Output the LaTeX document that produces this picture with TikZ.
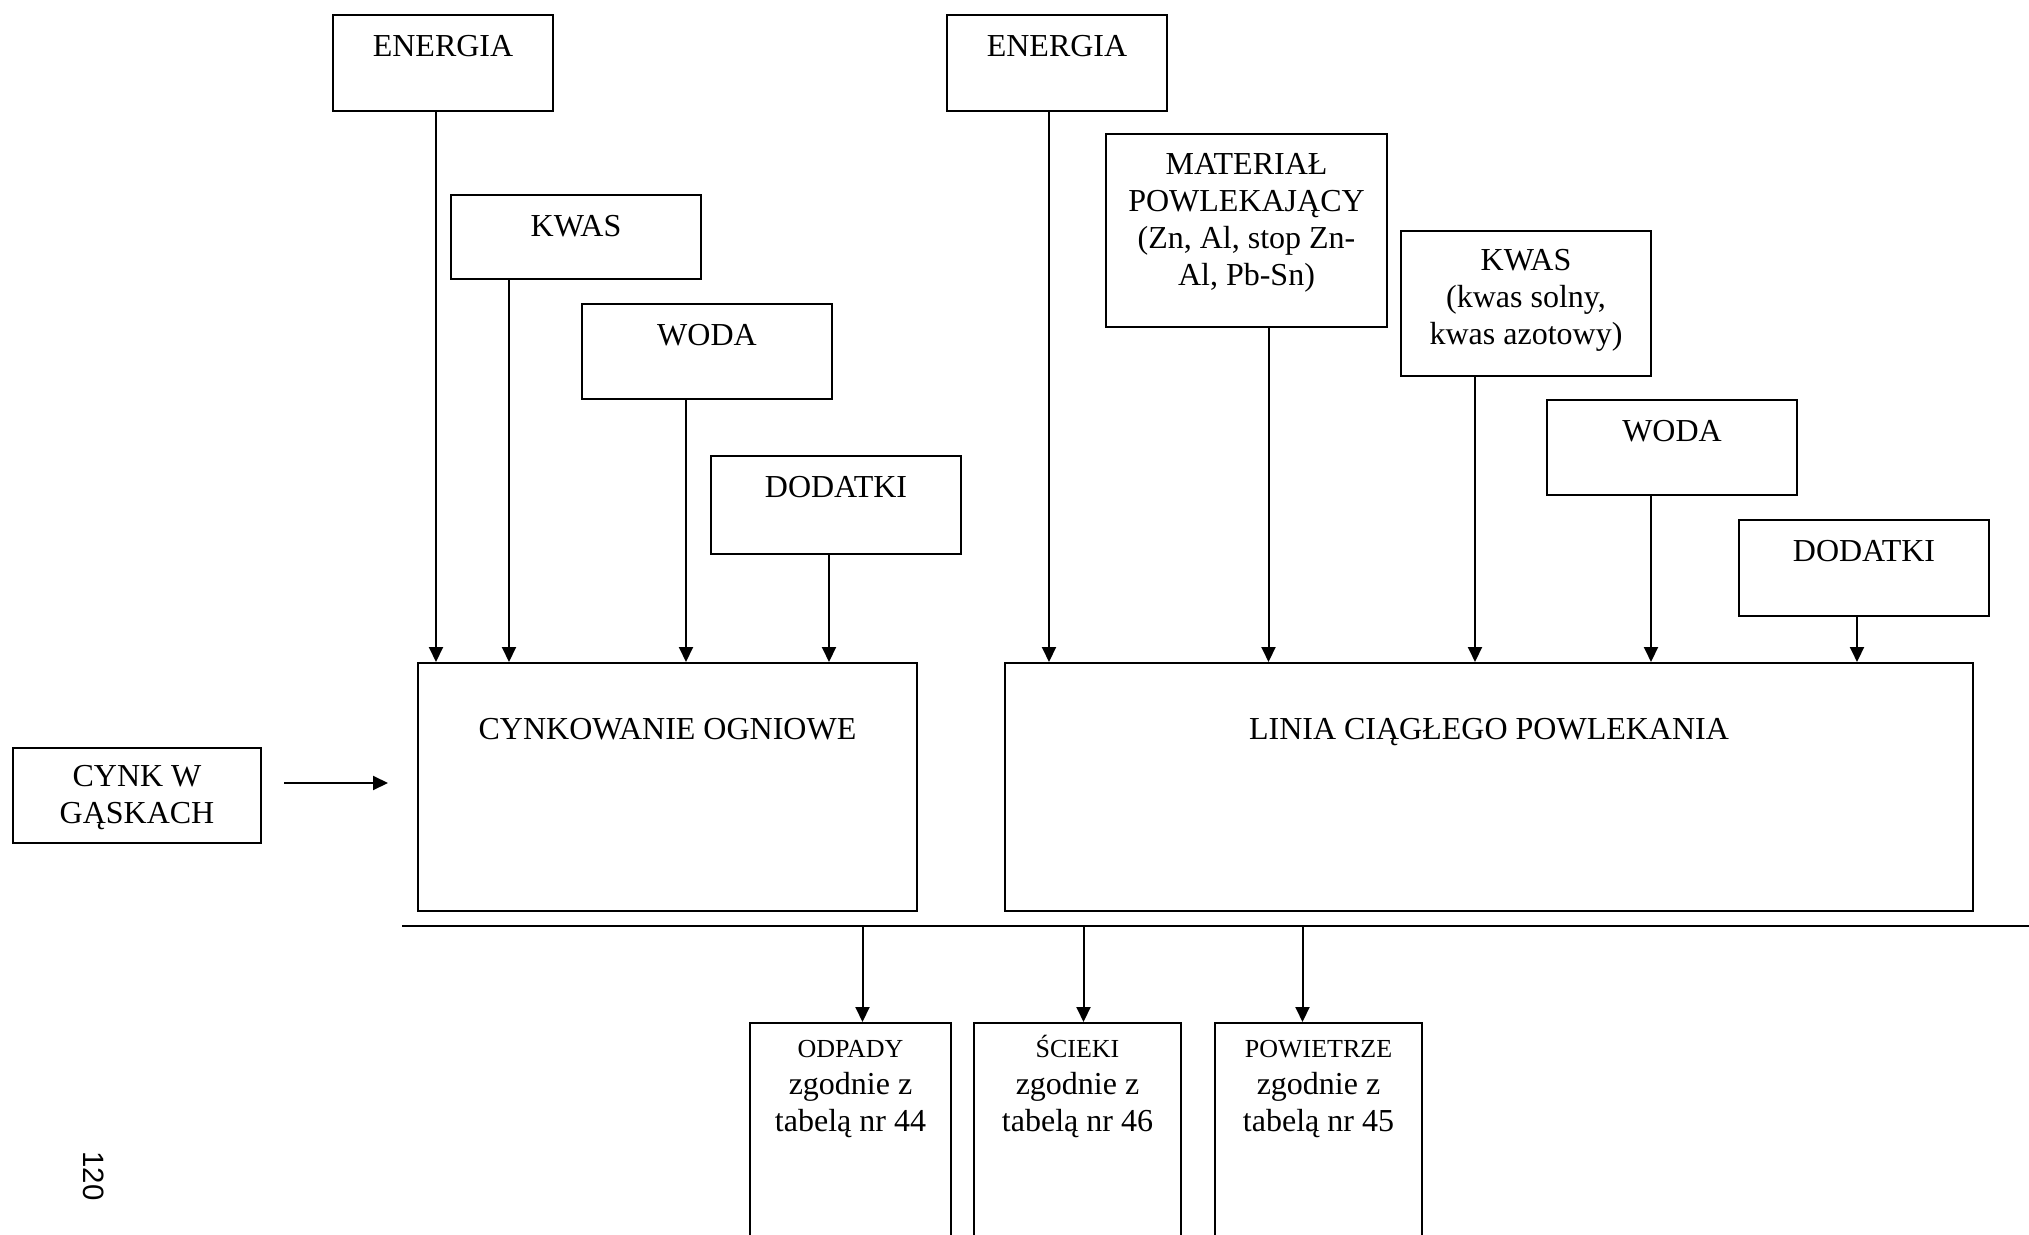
\documentclass[tikz,border=0pt]{standalone}
\usepackage{fontspec}
\setmainfont{Liberation Serif}
\setsansfont{Liberation Sans}
\usetikzlibrary{arrows.meta}
\tikzset{
  blok/.style={draw, line width=1pt, inner sep=0pt, anchor=north west},
  napis/.style={anchor=north, align=center, inner sep=0pt, yshift=#1,
    font=\fontsize{16}{18.5}\selectfont, execute at begin node=\strut},
  napis/.default=-8.2pt,
  strz/.style={-{Triangle[length=7.5pt,width=7pt]}, line width=1pt},
}
\newcommand{\maly}[1]{{\fontsize{13}{15}\selectfont\vphantom{Ś}#1}}

\begin{document}
\begin{tikzpicture}[x=0.5pt,y=-0.5pt]
    \useasboundingbox (0,0) rectangle (2029,1235);

    % cynkowanie ogniowe
    \node[blok, minimum width=110pt, minimum height=48pt, label={[napis]north:ENERGIA}] (lenergia) at (332,14) {};
    \node[blok, minimum width=125pt, minimum height=42pt, label={[napis]north:KWAS}] (lkwas) at (450,194) {};
    \node[blok, minimum width=125pt, minimum height=47.5pt, label={[napis]north:WODA}] (lwoda) at (581,303) {};
    \node[blok, minimum width=125pt, minimum height=49pt, label={[napis]north:DODATKI}] (ldodatki) at (710,455) {};
    \node[blok, minimum width=249.5pt, minimum height=124pt, label={[napis=-25.6pt]north:CYNKOWANIE OGNIOWE}] (lproc) at (417,662) {};
    \node[blok, minimum width=124pt, minimum height=47.5pt, label={[napis=-8.8pt]north:{CYNK W\\GĄSKACH}}] (cynk) at (12,747) {};

    % linia ciaglego powlekania
    \node[blok, minimum width=110pt, minimum height=48pt, label={[napis]north:ENERGIA}] (renergia) at (946,14) {};
    \node[blok, minimum width=140.5pt, minimum height=96.5pt, label={[napis=-9.8pt]north:{MATERIAŁ\\POWLEKAJĄCY\\(Zn, Al, stop Zn-\\Al, Pb-Sn)}}] (rmaterial) at (1105,133) {};
    \node[blok, minimum width=125pt, minimum height=72.5pt, label={[napis=-9.6pt]north:{KWAS\\(kwas solny,\\kwas azotowy)}}] (rkwas) at (1400,230) {};
    \node[blok, minimum width=125pt, minimum height=47.5pt, label={[napis]north:WODA}] (rwoda) at (1546,399) {};
    \node[blok, minimum width=125pt, minimum height=48pt, label={[napis]north:DODATKI}] (rdodatki) at (1738,519) {};
    \node[blok, minimum width=484pt, minimum height=124pt, label={[napis=-25.6pt]north:LINIA CIĄGŁEGO POWLEKANIA}] (rproc) at (1004,662) {};

    % emisje
    \node[blok, minimum width=100.5pt, minimum height=150pt, label={[napis=-6.6pt]north:{\maly{ODPADY}\\zgodnie z\\tabelą nr 44}}] (odpady) at (749,1022) {};
    \node[blok, minimum width=103.5pt, minimum height=150pt, label={[napis=-6.6pt]north:{\maly{ŚCIEKI}\\zgodnie z\\tabelą nr 46}}] (scieki) at (973,1022) {};
    \node[blok, minimum width=103.5pt, minimum height=150pt, label={[napis=-6.6pt]north:{\maly{POWIETRZE}\\zgodnie z\\tabelą nr 45}}] (powietrze) at (1214,1022) {};

    \node[rotate=-90, font=\fontsize{14.7}{16}\selectfont\sffamily] (strona) at (94,1176) {120};

    \draw[strz] ([xshift=-3.5pt]lenergia.south) -- ([xshift=-3.5pt]lenergia.south |- lproc.north);
    \draw[strz] ([xshift=-33.5pt]lkwas.south) -- ([xshift=-33.5pt]lkwas.south |- lproc.north);
    \draw[strz] ([xshift=-10.5pt]lwoda.south) -- ([xshift=-10.5pt]lwoda.south |- lproc.north);
    \draw[strz] ([xshift=-3.5pt]ldodatki.south) -- ([xshift=-3.5pt]ldodatki.south |- lproc.north);

    \draw[strz] ([xshift=-4pt]renergia.south) -- ([xshift=-4pt]renergia.south |- rproc.north);
    \draw[strz] ([xshift=11pt]rmaterial.south) -- ([xshift=11pt]rmaterial.south |- rproc.north);
    \draw[strz] ([xshift=-25.5pt]rkwas.south) -- ([xshift=-25.5pt]rkwas.south |- rproc.north);
    \draw[strz] ([xshift=-10.5pt]rwoda.south) -- ([xshift=-10.5pt]rwoda.south |- rproc.north);
    \draw[strz] ([xshift=-3.5pt]rdodatki.south) -- ([xshift=-3.5pt]rdodatki.south |- rproc.north);

    \coordinate (cynkwy) at ([xshift=11pt,yshift=6.25pt]cynk.east);
    \draw[strz] (cynkwy) -- ([xshift=-14.5pt]lproc.west |- cynkwy);

    \coordinate (busL) at (402,926);
    \coordinate (busR) at (2029,926);
    \draw[line width=1pt] (busL) -- (busR);
    \draw[strz] ([xshift=6pt]odpady.north |- busL) -- ([xshift=6pt]odpady.north);
    \draw[strz] ([xshift=3pt]scieki.north |- busL) -- ([xshift=3pt]scieki.north);
    \draw[strz] ([xshift=-8pt]powietrze.north |- busL) -- ([xshift=-8pt]powietrze.north);
\end{tikzpicture}
\end{document}
